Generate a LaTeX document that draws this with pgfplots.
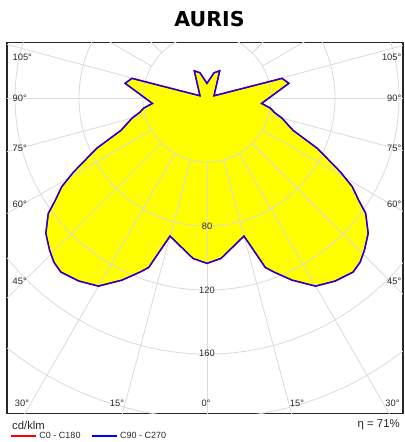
\documentclass[border=0pt]{standalone}
\usepackage{fontspec}
\setmainfont{Liberation Sans}
\newfontfamily\titlefont{DejaVu Sans}
\usepackage{pgfplots}
\pgfplotsset{compat=1.18}
\definecolor{gridc}{RGB}{218,218,218}
\definecolor{curveblue}{RGB}{20,0,235}
\definecolor{curvered}{RGB}{255,0,0}
\definecolor{txt}{RGB}{40,40,40}
\definecolor{lumyellow}{RGB}{255,255,0}
\begin{document}
\begin{tikzpicture}[x=1bp,y=1bp]
\begin{axis}[
  at={(7bp,28.7bp)}, anchor=south west,
  scale only axis, width=396bp, height=370.6bp,
  xmin=-125, xmax=122.5, ymin=-197, ymax=34.6,
  axis line style={black!85, line width=1.2bp},
  ticks=none, clip=true,
]
% luminous intensity curve (angle from +x axis, cd/klm)
\addplot[data cs=polar, fill=lumyellow, draw=none] coordinates {
(-90,103.3) (-85,100.6) (-75,89.3) (-71,112) (-69,116.4) (-65,125.5) (-60,135.7)
(-55,139.6) (-50,142) (-47,140.3) (-44,136.8) (-40,131.5) (-36,122.6) (-34,114.4)
(-31.4,106.4) (-29,95.4) (-24.5,75.8) (-20.6,57.5) (-19,54.5) (-15,48.5) (-12,43)
(-9,40) (-5.6,34.3) (10.2,52) (14.7,48.5) (18,4.6) (65,18.8) (74.5,16.4) (90,9.2)
(105.5,16.4) (115,18.8) (162,4.6) (165.3,48.5) (169.8,52) (185.6,34.3) (189,40)
(192,43) (195,48.5) (199,54.5) (200.6,57.5) (204.5,75.8) (209,95.4) (211.4,106.4)
(214,114.4) (216,122.6) (220,131.5) (224,136.8) (227,140.3) (230,142) (235,139.6)
(240,135.7) (245,125.5) (249,116.4) (251,112) (255,89.3) (265,100.6) (270,103.3)
} -- cycle;
% polar grid
\pgfplotsinvokeforeach{40,80,120,160,200}{
  \draw[gridc, line width=0.8bp] (axis cs:0,0) circle[radius=#1];
}
\pgfplotsinvokeforeach{0,15,...,345}{
  \draw[gridc, line width=0.8bp] (axis cs:{40*cos(#1)},{40*sin(#1)}) -- (axis cs:{280*cos(#1)},{280*sin(#1)});
}
\addplot[data cs=polar, curvered, line width=1.4bp] coordinates {
(-90,103.3) (-85,100.6) (-75,89.3) (-71,112) (-69,116.4) (-65,125.5) (-60,135.7)
(-55,139.6) (-50,142) (-47,140.3) (-44,136.8) (-40,131.5) (-36,122.6) (-34,114.4)
(-31.4,106.4) (-29,95.4) (-24.5,75.8) (-20.6,57.5) (-19,54.5) (-15,48.5) (-12,43)
(-9,40) (-5.6,34.3) (10.2,52) (14.7,48.5) (18,4.6) (65,18.8) (74.5,16.4) (90,9.2)
(105.5,16.4) (115,18.8) (162,4.6) (165.3,48.5) (169.8,52) (185.6,34.3) (189,40)
(192,43) (195,48.5) (199,54.5) (200.6,57.5) (204.5,75.8) (209,95.4) (211.4,106.4)
(214,114.4) (216,122.6) (220,131.5) (224,136.8) (227,140.3) (230,142) (235,139.6)
(240,135.7) (245,125.5) (249,116.4) (251,112) (255,89.3) (265,100.6) (270,103.3)
} -- cycle;
\addplot[data cs=polar, curveblue, line width=1.4bp, line join=miter] coordinates {
(-90,103.3) (-85,100.6) (-75,89.3) (-71,112) (-69,116.4) (-65,125.5) (-60,135.7)
(-55,139.6) (-50,142) (-47,140.3) (-44,136.8) (-40,131.5) (-36,122.6) (-34,114.4)
(-31.4,106.4) (-29,95.4) (-24.5,75.8) (-20.6,57.5) (-19,54.5) (-15,48.5) (-12,43)
(-9,40) (-5.6,34.3) (10.2,52) (14.7,48.5) (18,4.6) (65,18.8) (74.5,16.4) (90,9.2)
(105.5,16.4) (115,18.8) (162,4.6) (165.3,48.5) (169.8,52) (185.6,34.3) (189,40)
(192,43) (195,48.5) (199,54.5) (200.6,57.5) (204.5,75.8) (209,95.4) (211.4,106.4)
(214,114.4) (216,122.6) (220,131.5) (224,136.8) (227,140.3) (230,142) (235,139.6)
(240,135.7) (245,125.5) (249,116.4) (251,112) (255,89.3) (265,100.6) (270,103.3)
} -- cycle;
\end{axis}
% title
\node[anchor=base, font=\titlefont\bfseries\fontsize{20.5bp}{24bp}\selectfont] at (209.5,415.3) {AURIS};
% angle labels
\begin{scope}[every node/.style={font=\fontsize{9.3bp}{10bp}\selectfont, text=txt, inner sep=0pt}]
\node[anchor=west] at (12.5,385) {105°};
\node[anchor=west] at (12.5,344) {90°};
\node[anchor=west] at (12.5,294) {75°};
\node[anchor=west] at (12.5,238) {60°};
\node[anchor=west] at (12.5,161) {45°};
\node[anchor=east] at (401.5,385) {105°};
\node[anchor=east] at (401.5,344) {90°};
\node[anchor=east] at (401.5,294) {75°};
\node[anchor=east] at (401.5,238) {60°};
\node[anchor=east] at (401.5,161) {45°};
\node at (22,38.5) {30°};
\node at (117,38.5) {15°};
\node at (206,38.5) {0°};
\node at (297,38.5) {15°};
\node at (392.5,38.5) {30°};
\node at (207,216) {80};
\node at (207,152) {120};
\node at (207,89) {160};
\end{scope}
% legend
\node[anchor=west, inner sep=0pt, text=txt, font=\fontsize{11.3bp}{13bp}\selectfont] at (12,16.3) {cd/klm};
\fill[red] (11,5.4) rectangle (36,7.2);
\node[anchor=west, inner sep=0pt, text=txt, font=\fontsize{9bp}{10bp}\selectfont] at (39.3,6.3) {C0 - C180};
\fill[blue] (91.7,5.4) rectangle (117.3,7.2);
\node[anchor=west, inner sep=0pt, text=txt, font=\fontsize{9bp}{10bp}\selectfont] at (120,6.3) {C90 - C270};
\node[anchor=base east, inner sep=0pt, text=txt, font=\fontsize{11.4bp}{13bp}\selectfont] at (400,14.4) {η = 71\%};
\pgfresetboundingbox
\path (0,0) rectangle (404,442);
\end{tikzpicture}
\end{document}
